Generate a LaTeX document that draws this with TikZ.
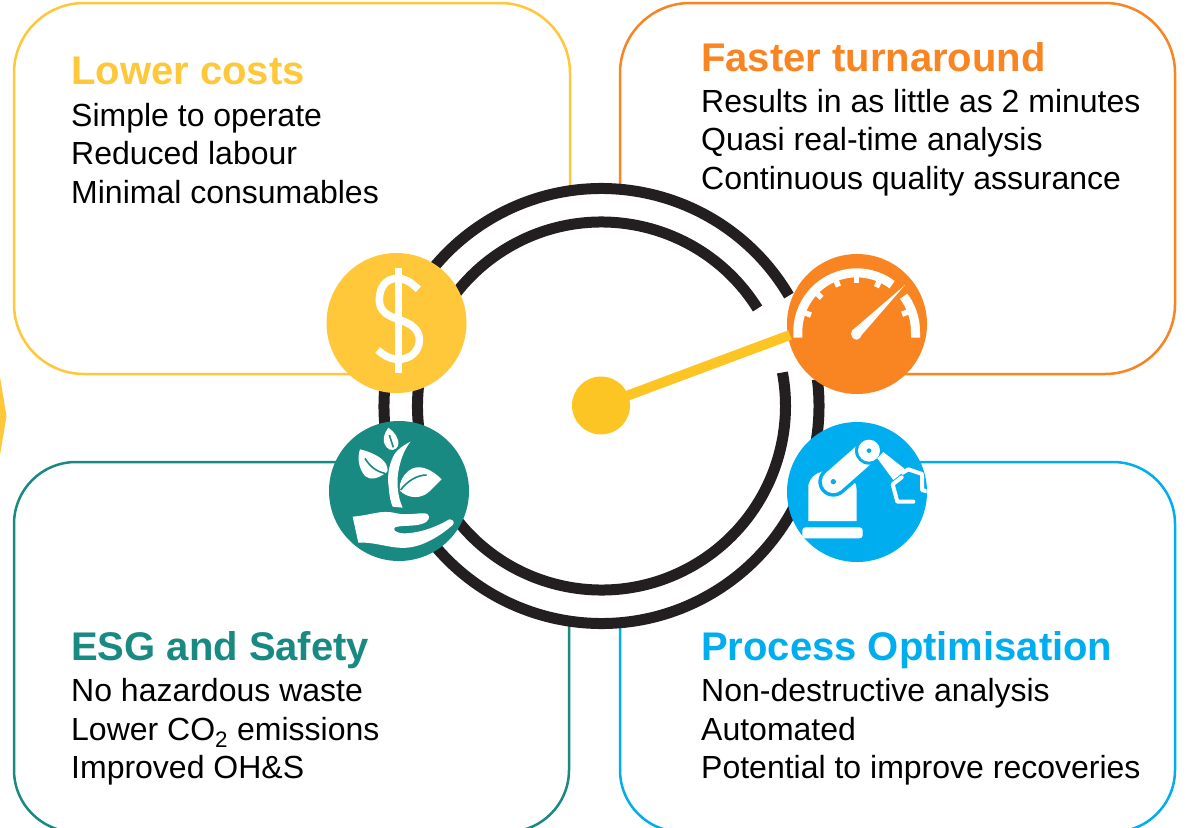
\documentclass[tikz,border=0pt]{standalone}
\usepackage{fontspec}
\setmainfont{Liberation Sans}
\definecolor{cyel}{HTML}{FFC83A}
\definecolor{cora}{HTML}{F98522}
\definecolor{ctea}{HTML}{188A82}
\definecolor{cblu}{HTML}{00AEEF}
\definecolor{cink}{HTML}{231F20}
\definecolor{chub}{HTML}{FDC524}
\tikzset{
  panel/.style={draw=#1,line width=2.5pt,rounded corners=70pt,inner sep=0pt,fill=white},
  badge/.style={circle,fill=#1,minimum size=140pt,inner sep=0pt},
  head/.style={anchor=base west,inner sep=0pt,font=\fontsize{40}{40}\selectfont\bfseries,text=#1},
  body/.style={anchor=base west,inner sep=0pt,font=\fontsize{32}{34}\selectfont,text=black},
  ring/.style={line width=11pt,draw=cink},
  icon/.style={shift={(#1)},scale=1/3},
}
\begin{document}
\begin{tikzpicture}[x=1pt,y=-1pt]
\useasboundingbox (0,0) rectangle (1188,827);
\clip (0,0) rectangle (1188,827);
\fill[white] (0,0) rectangle (1188,827);
\node[panel=cyel,minimum width=556pt,minimum height=371pt] (costs) at (292,188.5) {};
\node[panel=cora,minimum width=555pt,minimum height=371pt] (speed) at (897.5,188.5) {};
\node[panel=ctea,minimum width=555pt,minimum height=370pt,rounded corners=62pt] (esg) at (291.5,647) {};
\node[panel=cblu,minimum width=555pt,minimum height=370pt,rounded corners=62pt] (proc) at (897.5,647) {};
\fill[cyel] (0,377) -- (6.5,416) -- (0,455) -- cycle;
\coordinate (ringc) at (601.5,406);
\fill[white] (ringc) circle[radius=217];
\draw[ring] (ringc) ++(-30.5:217.5) arc[start angle=-30.5,end angle=-367,radius=217.5];
\draw[ring] (ringc) ++(-32:184) arc[start angle=-32,end angle=-370.5,radius=184];
\node[badge=cyel] (dollar) at (396.5,323) {};
\node[badge=ctea] (plant) at (399,491) {};
\node[badge=cora] (gauge) at (857,324) {};
\node[badge=cblu] (robot) at (857,492) {};
\node[circle,fill=chub,minimum size=58pt,inner sep=0pt] (hub) at (601,405.5) {};
\draw[chub,line width=10pt] (hub.center) -- (790,335);
% dollar icon
\begin{scope}[icon={310,240}]
\fill[white] (255,85) rectangle (277,398);
\draw[white,line width=7.5pt] (325,148) .. controls (300,125) and (285,115) .. (262,115) .. controls (225,115) and (208,145) .. (208,180) .. controls (208,215) and (235,228) .. (265,238) .. controls (300,250) and (328,265) .. (328,300) .. controls (328,335) and (300,358) .. (265,358) .. controls (240,358) and (220,345) .. (203,330);
% plant icon
\fill[white] (278,803) .. controls (262,770) and (258,720) .. (268,680) .. controls (275,650) and (285,625) .. (302,605) .. controls (280,615) and (262,630) .. (255,640) .. controls (240,665) and (230,700) .. (236,740) .. controls (238,770) and (243,790) .. (248,800) -- cycle;
\fill[white] (235,563) .. controls (252,575) and (270,595) .. (264,618) .. controls (257,632) and (240,634) .. (230,622) .. controls (213,600) and (223,580) .. (235,563) -- cycle;
\fill[white] (150,628) .. controls (180,635) and (215,650) .. (228,672) .. controls (235,690) and (235,695) .. (225,700) .. controls (205,715) and (180,722) .. (165,708) .. controls (146,685) and (141,655) .. (150,628) -- cycle;
\fill[white] (395,718) .. controls (365,688) and (325,668) .. (295,693) .. controls (275,710) and (266,735) .. (270,752) .. controls (290,772) and (320,777) .. (345,764) .. controls (365,752) and (380,730) .. (395,718) -- cycle;
\draw[ctea,line width=1.6pt] (238,585) -- (250,622);
\draw[ctea,line width=1.6pt] (165,655) .. controls (180,680) and (200,695) .. (225,700);
\draw[ctea,line width=1.6pt] (350,705) .. controls (320,705) and (290,725) .. (272,750);
\fill[white] (128,830) .. controls (190,825) and (210,808) .. (260,820) .. controls (300,828) and (335,815) .. (352,822) .. controls (362,830) and (358,845) .. (335,852) .. controls (310,860) and (275,855) .. (255,862) .. controls (248,870) and (255,878) .. (280,880) .. controls (330,880) and (380,860) .. (418,838) .. controls (430,838) and (435,848) .. (428,855) .. controls (400,880) and (350,915) .. (300,922) .. controls (250,930) and (200,905) .. (145,908) -- cycle;
\end{scope}
% gauge icon
\begin{scope}[icon={770,240}]
\draw[white,line width=9pt,line cap=butt] (83.5,293) -- (83.5,275) arc[start angle=-180,end angle=-53,radius=176.5];
\draw[white,line width=9pt,line cap=butt] ({260+176.5*cos(37)},{275-176.5*sin(37)}) arc[start angle=-37,end angle=0,radius=176.5] -- (436.5,293);
\foreach \a in {160,136,112,90,66,21}
  \draw[white,line width=5.5pt] ({260+170*cos(\a)},{275-170*sin(\a)}) -- ({260+146*cos(\a)},{275-146*sin(\a)});
\fill[white] (405,135) -- (246,272) .. controls (238,285) and (250,300) .. (260,299) .. controls (268,299) and (272,292) .. (275,285) -- cycle;
% robot icon
\begin{scope}
\clip (260,756) circle[radius=210];
\fill[white,rounded corners=3pt] (97,895) -- (97,862) -- (278,862) -- (278,895) -- cycle;
\fill[white] (115,843) -- (115,735) .. controls (120,715) and (135,700) .. (155,695) -- (230,695) .. controls (250,715) and (260,730) .. (260,750) -- (260,843) -- cycle;
\fill[cblu] (205,640) rectangle (345,700);
\draw[cblu,line width=30pt,line cap=round] (190,725) -- (290,637);
\draw[white,line width=23pt,line cap=round] (190,725) -- (290,637);
\fill[cblu] (190,725) circle[radius=8];
\fill[cblu] (297,632) circle[radius=42];
\fill[white] (297,632) circle[radius=33];
\fill[cblu] (297,632) circle[radius=7];
\fill[white] (340,636) -- (322,655) -- (370,720) -- (408,690) -- cycle;
\draw[white,line width=4pt,line join=round] (395,700) -- (415,688) -- (456,702) -- (456,750) -- (475,755);
\draw[white,line width=4pt,line join=round,line cap=round] (395,712) -- (368,733) -- (382,785) -- (430,785);
\end{scope}
\end{scope}
\node[head=cyel] (t1) at (71,84) {Lower costs};
\node[body] (t1a) at (71,126) {Simple to operate};
\node[body] (t1b) at (71,164) {Reduced labour};
\node[body] (t1c) at (71,203) {Minimal consumables};
\node[head=cora] (t2) at (701,71) {Faster turnaround};
\node[body] (t2a) at (701,112) {Results in as little as 2 minutes};
\node[body] (t2b) at (701,150) {Quasi real-time analysis};
\node[body] (t2c) at (701,189) {Continuous quality assurance};
\node[head=ctea] (t3) at (71,660) {ESG and Safety};
\node[body] (t3a) at (71,701) {No hazardous waste};
\node[body] (t3b) at (71,740) {Lower CO\textsubscript{2} emissions};
\node[body] (t3c) at (71,778) {Improved OH\&S};
\node[head=cblu] (t4) at (701,660) {Process Optimisation};
\node[body] (t4a) at (701,701) {Non-destructive analysis};
\node[body] (t4b) at (701,740) {Automated};
\node[body] (t4c) at (701,778) {Potential to improve recoveries};
\end{tikzpicture}
\end{document}
